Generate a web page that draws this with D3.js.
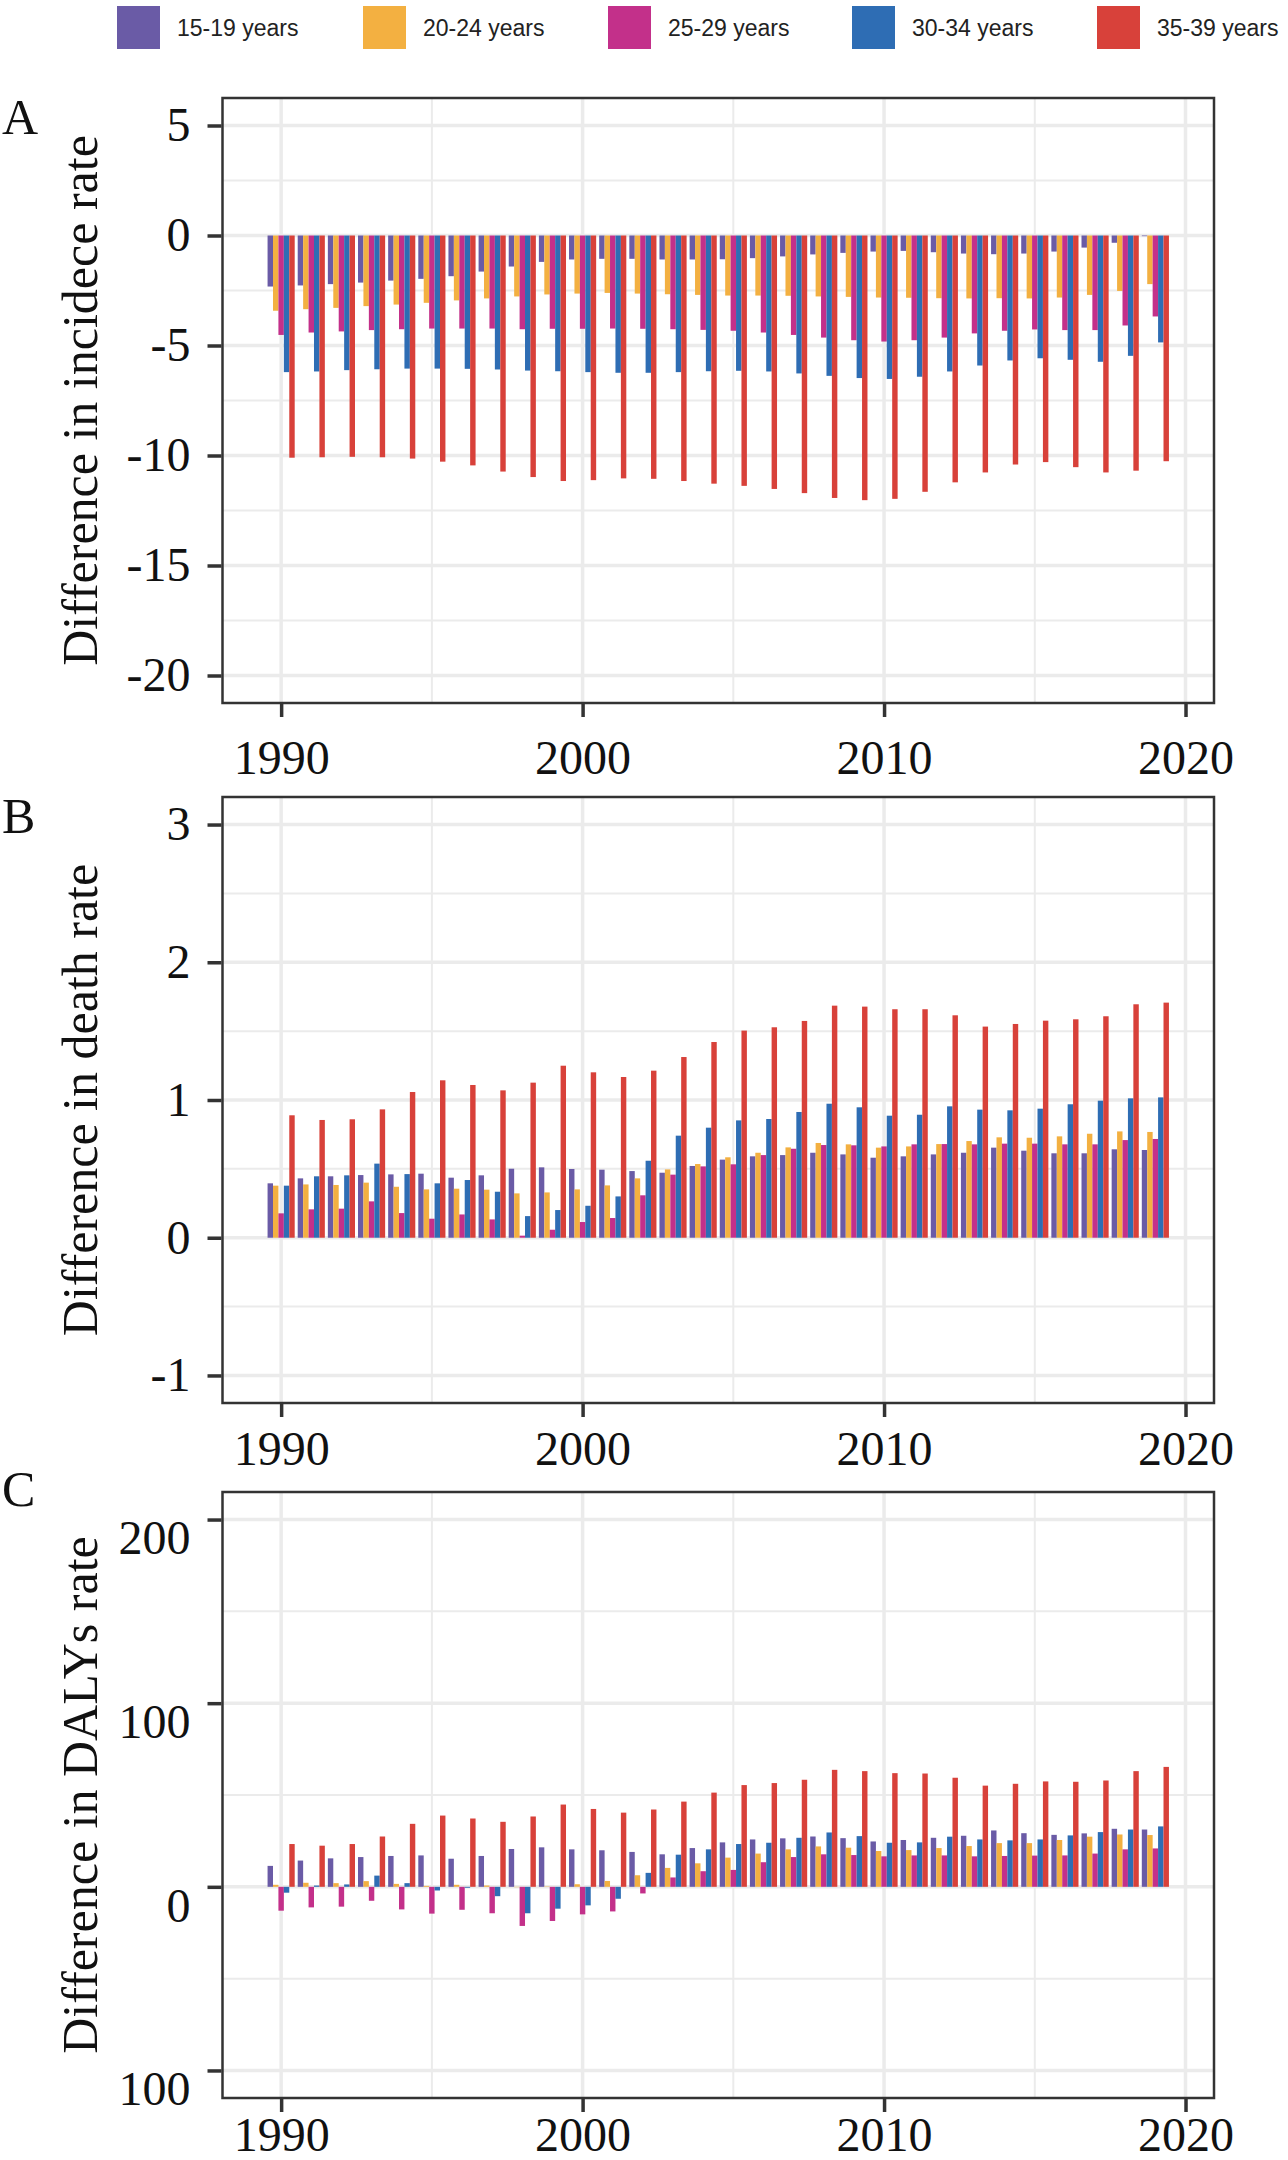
<!DOCTYPE html>
<html>
<head>
<meta charset="utf-8">
<script src="https://cdn.jsdelivr.net/npm/d3@7"></script>
<style>
  body { margin: 0; background: #fff; }
  svg { display: block; }
</style>
</head>
<body>
<div id="chart"></div>
<script>
// ---- data ----
const years = [1990, 1991, 1992, 1993, 1994, 1995, 1996, 1997, 1998, 1999,
               2000, 2001, 2002, 2003, 2004, 2005, 2006, 2007, 2008, 2009,
               2010, 2011, 2012, 2013, 2014, 2015, 2016, 2017, 2018, 2019];

const ageGroups = ["15-19 years", "20-24 years", "25-29 years", "30-34 years", "35-39 years"];
const ageColors = ["#6a5ba6", "#f3b041", "#c3308a", "#2e6db4", "#d8413a"];

// A: difference in incidence rate
const incid15 = [-2.32, -2.27, -2.21, -2.14, -2.05, -1.97, -1.85, -1.64, -1.41, -1.20,
                 -1.09, -1.06, -1.06, -1.09, -1.09, -1.08, -1.03, -0.95, -0.86, -0.79,
                 -0.73, -0.70, -0.76, -0.82, -0.85, -0.82, -0.73, -0.55, -0.33, -0.03];
const incid20 = [-3.42, -3.35, -3.29, -3.21, -3.14, -3.06, -2.95, -2.86, -2.77, -2.68,
                 -2.64, -2.61, -2.64, -2.67, -2.70, -2.73, -2.73, -2.74, -2.77, -2.79,
                 -2.82, -2.83, -2.85, -2.86, -2.85, -2.86, -2.82, -2.70, -2.52, -2.21];
const incid25 = [-4.52, -4.41, -4.36, -4.30, -4.26, -4.23, -4.23, -4.23, -4.26, -4.24,
                 -4.24, -4.23, -4.24, -4.26, -4.29, -4.33, -4.41, -4.52, -4.64, -4.76,
                 -4.82, -4.76, -4.64, -4.45, -4.33, -4.27, -4.30, -4.30, -4.09, -3.68];
const incid30 = [-6.21, -6.18, -6.12, -6.08, -6.05, -6.05, -6.06, -6.09, -6.14, -6.17,
                 -6.21, -6.24, -6.24, -6.21, -6.17, -6.15, -6.18, -6.27, -6.38, -6.48,
                 -6.52, -6.42, -6.18, -5.91, -5.68, -5.58, -5.65, -5.74, -5.47, -4.86];
const incid35 = [-10.10, -10.08, -10.06, -10.08, -10.14, -10.28, -10.45, -10.73, -10.98, -11.16,
                 -11.12, -11.04, -11.06, -11.16, -11.28, -11.38, -11.52, -11.71, -11.93, -12.03,
                 -11.97, -11.65, -11.22, -10.77, -10.41, -10.30, -10.53, -10.77, -10.69, -10.26];

// B: difference in death rate
const death15 = [0.395, 0.431, 0.446, 0.455, 0.460, 0.465, 0.436, 0.453, 0.501, 0.511,
                 0.499, 0.494, 0.484, 0.472, 0.521, 0.567, 0.591, 0.600, 0.617, 0.605,
                 0.581, 0.591, 0.605, 0.617, 0.654, 0.632, 0.613, 0.613, 0.642, 0.637];
const death20 = [0.378, 0.387, 0.383, 0.400, 0.370, 0.351, 0.356, 0.349, 0.322, 0.329,
                 0.351, 0.380, 0.431, 0.496, 0.535, 0.584, 0.617, 0.656, 0.688, 0.678,
                 0.654, 0.663, 0.680, 0.702, 0.729, 0.726, 0.736, 0.755, 0.772, 0.768];
const death25 = [0.177, 0.206, 0.211, 0.264, 0.179, 0.138, 0.169, 0.133, 0.015, 0.058,
                 0.114, 0.143, 0.308, 0.458, 0.518, 0.533, 0.600, 0.646, 0.673, 0.671,
                 0.663, 0.678, 0.680, 0.678, 0.683, 0.683, 0.678, 0.678, 0.709, 0.717];
const death30 = [0.378, 0.446, 0.453, 0.538, 0.462, 0.395, 0.419, 0.334, 0.157, 0.201,
                 0.232, 0.300, 0.559, 0.741, 0.799, 0.852, 0.862, 0.913, 0.973, 0.947,
                 0.886, 0.893, 0.954, 0.930, 0.925, 0.937, 0.969, 0.995, 1.012, 1.019];
const death35 = [0.889, 0.855, 0.860, 0.932, 1.058, 1.143, 1.109, 1.070, 1.126, 1.249,
                 1.201, 1.167, 1.213, 1.312, 1.421, 1.504, 1.528, 1.574, 1.685, 1.678,
                 1.659, 1.659, 1.615, 1.533, 1.552, 1.576, 1.586, 1.608, 1.695, 1.707];

// C: difference in DALYs rate
const daly15 = [11.4, 14.3, 15.5, 16.2, 16.8, 17.1, 15.3, 16.8, 20.6, 21.5,
                20.4, 19.9, 19.0, 17.7, 21.1, 24.2, 25.8, 26.4, 27.4, 26.5,
                24.7, 25.5, 26.7, 27.8, 30.7, 29.2, 28.3, 29.1, 31.6, 31.2];
const daly20 = [1.1, 2.2, 2.0, 3.1, 1.6, 0.5, 1.1, 0.7, -0.2, 0.2,
                1.4, 3.2, 6.3, 10.3, 12.8, 15.9, 18.1, 20.4, 22.0, 21.3,
                19.5, 20.0, 21.1, 22.2, 23.8, 23.8, 25.5, 27.3, 28.5, 28.2];
const daly25 = [-13.0, -11.2, -10.8, -7.6, -12.3, -14.6, -12.5, -14.4, -21.3, -18.6,
                -15.0, -13.4, -3.6, 5.1, 8.5, 9.2, 13.4, 16.2, 17.7, 17.3,
                16.6, 17.1, 17.1, 16.6, 16.8, 17.0, 17.1, 18.1, 20.4, 20.9];
const daly30 = [-3.2, 0.7, 1.3, 6.1, 2.0, -2.0, -0.5, -5.1, -14.4, -11.9,
                -10.1, -6.5, 7.6, 17.5, 20.4, 23.3, 24.0, 26.7, 29.6, 27.6,
                24.0, 24.2, 27.3, 25.8, 25.3, 25.8, 28.0, 29.8, 31.2, 32.9];
const daly35 = [23.3, 22.4, 23.3, 27.4, 34.3, 38.8, 37.2, 35.4, 38.3, 44.8,
                42.4, 40.4, 42.1, 46.4, 51.3, 55.4, 56.5, 58.3, 63.7, 63.0,
                61.9, 61.7, 59.4, 55.1, 56.1, 57.4, 57.2, 57.9, 63.0, 65.3];

const xTicks = [1990, 2000, 2010, 2020];
const xMinor = [1995, 2005, 2015];

// ---- layout ----
const width = 1288, height = 2160;
const plotLeft = 222.5, plotRight = 1214;
const serif = "'Liberation Serif', 'Times New Roman', serif";
const sans = "'Liberation Sans', Arial, sans-serif";

const panels = [
    { letter: "A", letterY: 134, top: 98, bottom: 703, limits: [-20, 5],
      major: [-20, -15, -10, -5, 0, 5], minor: [-17.5, -12.5, -7.5, -2.5, 2.5],
      title: "Difference in incidece rate", xPad: 23, labelShift: 0,
      series: [incid15, incid20, incid25, incid30, incid35] },
    { letter: "B", letterY: 833, top: 797, bottom: 1403, limits: [-1, 3],
      major: [-1, 0, 1, 2, 3], minor: [-0.5, 0.5, 1.5, 2.5],
      title: "Difference in death rate", xPad: 14, labelShift: 0,
      series: [death15, death20, death25, death30, death35] },
    { letter: "C", letterY: 1506, top: 1492, bottom: 2098, limits: [-100, 200],
      major: [-100, 0, 100, 200], minor: [-50, 50, 150],
      title: "Difference in DALYs rate", xPad: 5, labelShift: 19,
      series: [daly15, daly20, daly25, daly30, daly35] }
];

const svg = d3.select("#chart").append("svg")
    .attr("width", width)
    .attr("height", height)
    .style("background", "#fff");

// geom_bar(width = 0.9) dodged over 5 groups, ggplot 5% expansion
const barW = 0.9 / ageGroups.length;
const xLo = years[0] - 0.45, xHi = years[years.length - 1] + 0.45;
const xPadYears = (xHi - xLo) * 0.05;
const x = d3.scaleLinear()
    .domain([xLo - xPadYears, xHi + xPadYears])
    .range([plotLeft, plotRight]);

// ---- legend ----
const legendX = [117, 363, 608, 852, 1097];
const legend = svg.append("g");
ageGroups.forEach((name, i) => {
    legend.append("rect")
        .attr("x", legendX[i]).attr("y", 6)
        .attr("width", 43).attr("height", 43)
        .attr("fill", ageColors[i]);
    legend.append("text")
        .attr("x", legendX[i] + 60).attr("y", 36)
        .style("font-family", sans)
        .style("font-size", "23px")
        .attr("fill", "#222")
        .text(name);
});

// ---- panels ----
panels.forEach(p => {
    const span = p.limits[1] - p.limits[0];
    const y = d3.scaleLinear()
        .domain([p.limits[0] - span * 0.05, p.limits[1] + span * 0.05])
        .range([p.bottom, p.top]);

    const g = svg.append("g");

    // grid
    g.selectAll(".hminor").data(p.minor).enter().append("line")
        .attr("x1", plotLeft).attr("x2", plotRight)
        .attr("y1", d => y(d)).attr("y2", d => y(d))
        .attr("stroke", "#ebebeb").attr("stroke-width", 2);
    g.selectAll(".vminor").data(xMinor).enter().append("line")
        .attr("y1", p.top).attr("y2", p.bottom)
        .attr("x1", d => x(d)).attr("x2", d => x(d))
        .attr("stroke", "#ebebeb").attr("stroke-width", 2);
    g.selectAll(".hmajor").data(p.major).enter().append("line")
        .attr("x1", plotLeft).attr("x2", plotRight)
        .attr("y1", d => y(d)).attr("y2", d => y(d))
        .attr("stroke", "#ebebeb").attr("stroke-width", 3.5);
    g.selectAll(".vmajor").data(xTicks).enter().append("line")
        .attr("y1", p.top).attr("y2", p.bottom)
        .attr("x1", d => x(d)).attr("x2", d => x(d))
        .attr("stroke", "#ebebeb").attr("stroke-width", 3.5);

    // bars
    p.series.forEach((vals, si) => {
        g.selectAll(".bar" + si).data(years).enter().append("rect")
            .attr("x", (yr) => x(yr - 0.45 + si * barW))
            .attr("width", x(barW) - x(0))
            .attr("y", (yr, i) => y(Math.max(0, vals[i])))
            .attr("height", (yr, i) => Math.abs(y(vals[i]) - y(0)))
            .attr("fill", ageColors[si]);
    });

    // border
    g.append("rect")
        .attr("x", plotLeft).attr("y", p.top)
        .attr("width", plotRight - plotLeft).attr("height", p.bottom - p.top)
        .attr("fill", "none").attr("stroke", "#333").attr("stroke-width", 2.5);

    // y axis (panel C shows unsigned labels, shifted down a little)
    const yAxis = g.append("g")
        .attr("transform", `translate(${plotLeft - 1},0)`)
        .call(d3.axisLeft(y).tickValues(p.major).tickSize(14).tickPadding(17)
            .tickFormat(d => p.labelShift ? String(Math.abs(d)) : String(d)));
    yAxis.select(".domain").remove();
    yAxis.selectAll(".tick line").attr("stroke", "#333").attr("stroke-width", 3.5);
    yAxis.selectAll(".tick text")
        .attr("y", p.labelShift)
        .style("font-family", serif).style("font-size", "48px").attr("fill", "#111");

    // x axis
    const xAxis = g.append("g")
        .attr("transform", `translate(0,${p.bottom + 1})`)
        .call(d3.axisBottom(x).tickValues(xTicks).tickSize(13).tickPadding(p.xPad)
            .tickFormat(d3.format("d")));
    xAxis.select(".domain").remove();
    xAxis.selectAll(".tick line").attr("stroke", "#333").attr("stroke-width", 3.5);
    xAxis.selectAll(".tick text")
        .style("font-family", serif).style("font-size", "48px").attr("fill", "#111");

    // axis title
    svg.append("text")
        .attr("transform", `translate(97,${(p.top + p.bottom) / 2}) rotate(-90)`)
        .attr("text-anchor", "middle")
        .style("font-family", serif).style("font-size", "50px").attr("fill", "#111")
        .text(p.title);

    // panel letter
    svg.append("text")
        .attr("x", 2).attr("y", p.letterY)
        .style("font-family", serif).style("font-size", "50px").attr("fill", "#111")
        .text(p.letter);
});
</script>
</body>
</html>
